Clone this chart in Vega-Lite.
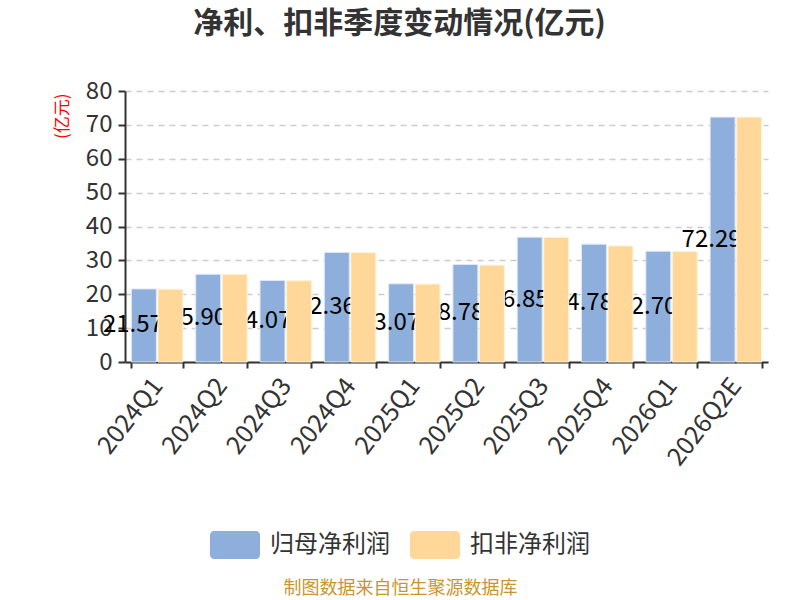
{
  "$schema": "https://vega.github.io/schema/vega-lite/v6.json",
  "width": 643,
  "height": 271,
  "autosize": {"type": "none"},
  "padding": {"left": 125, "top": 91, "right": 32, "bottom": 238},
  "background": "white",
  "title": {
    "text": "净利、扣非季度变动情况(亿元)",
    "fontSize": 30,
    "fontWeight": "bold",
    "color": "#333333",
    "anchor": "middle",
    "dx": -47,
    "offset": 40,
    "font": "Noto Sans CJK SC"
  },
  "config": {
    "view": {"stroke": null},
    "font": "Noto Sans CJK SC"
  },
  "data": {
    "values": [
      {"q": "2024Q1", "series": "归母净利润", "value": 21.57},
      {"q": "2024Q1", "series": "扣非净利润", "value": 21.5},
      {"q": "2024Q2", "series": "归母净利润", "value": 25.9},
      {"q": "2024Q2", "series": "扣非净利润", "value": 25.88},
      {"q": "2024Q3", "series": "归母净利润", "value": 24.07},
      {"q": "2024Q3", "series": "扣非净利润", "value": 24.0},
      {"q": "2024Q4", "series": "归母净利润", "value": 32.36},
      {"q": "2024Q4", "series": "扣非净利润", "value": 32.3},
      {"q": "2025Q1", "series": "归母净利润", "value": 23.07},
      {"q": "2025Q1", "series": "扣非净利润", "value": 23.0},
      {"q": "2025Q2", "series": "归母净利润", "value": 28.78},
      {"q": "2025Q2", "series": "扣非净利润", "value": 28.6},
      {"q": "2025Q3", "series": "归母净利润", "value": 36.85},
      {"q": "2025Q3", "series": "扣非净利润", "value": 36.8},
      {"q": "2025Q4", "series": "归母净利润", "value": 34.78},
      {"q": "2025Q4", "series": "扣非净利润", "value": 34.28},
      {"q": "2026Q1", "series": "归母净利润", "value": 32.7},
      {"q": "2026Q1", "series": "扣非净利润", "value": 32.62},
      {"q": "2026Q2E", "series": "归母净利润", "value": 72.29},
      {"q": "2026Q2E", "series": "扣非净利润", "value": 72.29}
    ]
  },
  "encoding": {
    "x": {
      "field": "q",
      "type": "nominal",
      "sort": null,
      "scale": {"paddingInner": 0.2, "paddingOuter": 0.1},
      "axis": {
        "title": "制图数据来自恒生聚源数据库",
        "titleColor": "#c9952f",
        "titleFontSize": 18,
        "titleFontWeight": "normal",
        "titleX": 275,
        "titleY": 226,
        "titleAlign": "center",
        "titleBaseline": "middle",
        "labelAngle": -52,
        "labelAlign": "right",
        "labelBaseline": "middle",
        "labelFontSize": 25,
        "labelColor": "#333333",
        "labelPadding": 13,
        "tickBand": "extent",
        "tickSize": 6,
        "tickColor": "#333333",
        "tickWidth": 2,
        "domainColor": "#333333",
        "domainWidth": 2,
        "grid": false
      }
    },
    "xOffset": {
      "field": "series",
      "type": "nominal",
      "sort": ["归母净利润", "扣非净利润"],
      "scale": {"domain": ["归母净利润", "扣非净利润"], "paddingInner": 0.06}
    },
    "y": {
      "field": "value",
      "type": "quantitative",
      "scale": {"domain": [0, 80]},
      "axis": {
        "title": "(亿元)",
        "titleColor": "#ff0000",
        "titleFontSize": 17,
        "titleFontWeight": "normal",
        "titleAngle": -90,
        "titleX": -63,
        "titleY": 2,
        "titleAlign": "right",
        "titleBaseline": "middle",
        "values": [0, 10, 20, 30, 40, 50, 60, 70, 80],
        "labelFontSize": 24,
        "labelColor": "#333333",
        "labelPadding": 6,
        "labelOverlap": false,
        "tickSize": 7,
        "tickColor": "#333333",
        "tickWidth": 2,
        "domainColor": "#333333",
        "domainWidth": 2,
        "grid": true,
        "gridColor": "#cccccc",
        "gridWidth": 1.5,
        "gridDash": [6, 5]
      }
    },
    "color": {
      "field": "series",
      "type": "nominal",
      "scale": {"domain": ["归母净利润", "扣非净利润"], "range": ["#8eaedb", "#ffd899"]},
      "legend": {
        "title": null,
        "orient": "none",
        "direction": "horizontal",
        "legendX": 85,
        "legendY": 429,
        "symbolType": "M-0.84,-0.56H0.84A0.16,0.16,0,0,1,1,-0.4V0.4A0.16,0.16,0,0,1,0.84,0.56H-0.84A0.16,0.16,0,0,1,-1,0.4V-0.4A0.16,0.16,0,0,1,-0.84,-0.56Z",
        "symbolSize": 2500,
        "symbolStrokeWidth": 0,
        "symbolOpacity": 1,
        "labelFontSize": 24,
        "labelColor": "#333333",
        "labelOffset": 10,
        "columnPadding": 20,
        "labelLimit": 300
      }
    }
  },
  "layer": [
    {
      "transform": [{"filter": "datum.series == '归母净利润'"}],
      "mark": {"type": "bar", "stroke": "#dfe8f5", "strokeWidth": 1}
    },
    {
      "transform": [
        {"filter": "datum.series == '归母净利润'"},
        {"calculate": "datum.value / 2", "as": "mid"}
      ],
      "mark": {"type": "text", "fontSize": 24, "color": "#000000", "dx": -11, "align": "center", "baseline": "middle"},
      "encoding": {
        "y": {
          "field": "mid",
          "type": "quantitative",
          "axis": {
            "title": "(亿元)",
            "titleColor": "#ff0000",
            "titleFontSize": 17,
            "titleFontWeight": "normal",
            "titleAngle": -90,
            "titleX": -63,
            "titleY": 2,
            "titleAlign": "right",
            "titleBaseline": "middle",
            "values": [0, 10, 20, 30, 40, 50, 60, 70, 80],
            "labelFontSize": 24,
            "labelColor": "#333333",
            "labelPadding": 6,
            "labelOverlap": false,
            "tickSize": 7,
            "tickColor": "#333333",
            "tickWidth": 2,
            "domainColor": "#333333",
            "domainWidth": 2,
            "grid": true,
            "gridColor": "#cccccc",
            "gridWidth": 1.5,
            "gridDash": [6, 5]
          }
        },
        "color": {"value": "#000000"},
        "text": {"field": "value", "type": "quantitative", "format": ".2f"}
      }
    },
    {
      "transform": [{"filter": "datum.series == '扣非净利润'"}],
      "mark": {"type": "bar", "stroke": "#fff3df", "strokeWidth": 1}
    }
  ]
}
